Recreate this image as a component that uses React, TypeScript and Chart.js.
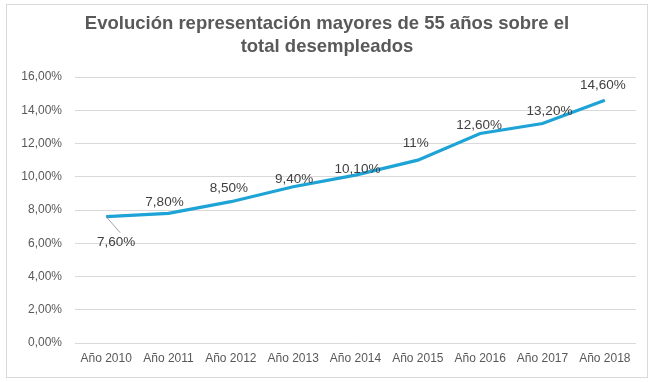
import React, { useEffect, useRef } from "react";
import { Chart, registerables } from "chart.js";

Chart.register(...registerables);

const categories = ["Año 2010", "Año 2011", "Año 2012", "Año 2013", "Año 2014", "Año 2015", "Año 2016", "Año 2017", "Año 2018"];
const values = [7.6, 7.8, 8.5, 9.4, 10.1, 11, 12.6, 13.2, 14.6];
const valueLabels = ["7,60%", "7,80%", "8,50%", "9,40%", "10,10%", "11%", "12,60%", "13,20%", "14,60%"];
const titleLines = ["Evolución representación mayores de 55 años sobre el", "total desempleados"];

// label placement offsets (px) relative to each point
const labelDx = [10, -4, -2, 1, 2, -2, -1, 7, -2];
const labelDy = [26, -11, -13, -7, -6, -17, -8, -12, -15];

const FONT = '"Liberation Sans", Arial, sans-serif';

const framePlugin = {
  id: "frame",
  beforeDraw(chart: any) {
    const ctx = chart.ctx;
    ctx.save();
    ctx.fillStyle = "#ffffff";
    ctx.fillRect(0, 0, chart.width, chart.height);
    ctx.strokeStyle = "#d9d9d9";
    ctx.lineWidth = 1;
    ctx.strokeRect(6.5, 4.5, chart.width - 13, chart.height - 9);
    ctx.fillStyle = "#595959";
    ctx.font = `bold 18.5px ${FONT}`;
    ctx.textAlign = "center";
    ctx.textBaseline = "middle";
    ctx.fillText(titleLines[0], 327, 24);
    ctx.fillText(titleLines[1], 327, 47);
    ctx.restore();
  },
  afterDatasetsDraw(chart: any) {
    const ctx = chart.ctx;
    const meta = chart.getDatasetMeta(0);
    ctx.save();
    ctx.font = `13.5px ${FONT}`;
    ctx.fillStyle = "#404040";
    ctx.textAlign = "center";
    ctx.textBaseline = "middle";
    meta.data.forEach((pt: any, i: number) => {
      const x = pt.x + labelDx[i];
      const y = pt.y + labelDy[i];
      if (i === 0) {
        ctx.strokeStyle = "#8c8c8c";
        ctx.lineWidth = 0.8;
        ctx.beginPath();
        ctx.moveTo(pt.x, pt.y);
        ctx.lineTo(pt.x + 14, pt.y + 16);
        ctx.stroke();
      }
      ctx.fillText(valueLabels[i], x, y);
    });
    ctx.restore();
  },
};

export default function App() {
  const ref = useRef<HTMLCanvasElement>(null);
  useEffect(() => {
    document.body.style.margin = "0";
    const chart = new Chart(ref.current!, {
      type: "line",
      data: {
        labels: categories,
        datasets: [
          {
            data: values,
            borderColor: "#1ea3d6",
            borderWidth: 3.2,
            pointRadius: 0,
            tension: 0,
            fill: false,
          },
        ],
      },
      options: {
        animation: false,
        responsive: false,
        devicePixelRatio: 1,
        layout: { padding: { left: 0, right: 18, top: 77, bottom: 0 } },
        plugins: { legend: { display: false }, title: { display: false }, tooltip: { enabled: false } },
        scales: {
          x: {
            offset: true,
            grid: { display: false, drawTicks: false },
            border: { display: false },
            ticks: { color: "#595959", font: { family: FONT, size: 12 }, padding: 8, maxRotation: 0, autoSkip: false },
            afterFit(scale: any) {
              scale.height = 39;
            },
          },
          y: {
            min: 0,
            max: 16,
            grid: { color: "#d9d9d9", drawTicks: false },
            border: { display: false },
            ticks: {
              stepSize: 2,
              color: "#595959",
              font: { family: FONT, size: 12 },
              padding: 13,
              callback: (v: any) => Number(v).toFixed(2).replace(".", ",") + "%",
            },
            afterFit(scale: any) {
              scale.width = 75;
            },
          },
        },
      },
      plugins: [framePlugin],
    });
    return () => chart.destroy();
  }, []);
  return (
    <div style={{ width: 654, height: 382 }}>
      <canvas ref={ref} width={654} height={382} style={{ display: "block" }} />
    </div>
  );
}
